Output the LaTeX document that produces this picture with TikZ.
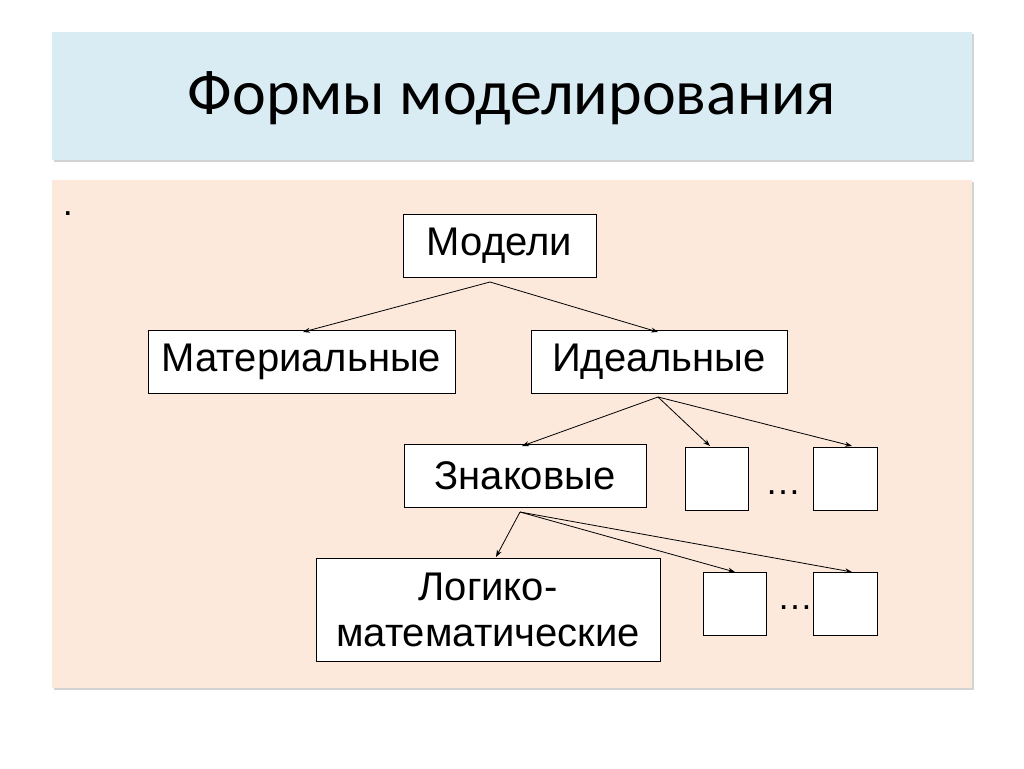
\documentclass[tikz,border=0pt]{standalone}
\usepackage{fontspec}
\setmainfont{Liberation Sans}
\newfontfamily\titlefont{Carlito}
\usetikzlibrary{arrows.meta,shadows}
\definecolor{TitleClr}{RGB}{218,236,243}
\definecolor{BodyClr}{RGB}{252,233,220}

\tikzset{
  band/.style={draw=none,drop shadow={shadow xshift=2pt,shadow yshift=-2pt,opacity=.35}},
  mbox/.style={draw,fill=white,line width=0.8pt,inner sep=0pt,font=\fontsize{40}{46}\selectfont},
  ebox/.style={draw,fill=white,line width=0.8pt},
  link/.style={-{Stealth[length=7pt,width=5pt]},line width=0.8pt}
}

\begin{document}
\begin{tikzpicture}[x=1pt,y=-1pt]
\useasboundingbox (0,0) rectangle (1024,768);

\fill[TitleClr,band] (52,32) rectangle (972,160);
\fill[BodyClr,band] (52,180) rectangle (972,688);
\node[font=\titlefont\fontsize{64}{70}\selectfont] (title) at (512,98) {Формы моделирования};
\node[font=\fontsize{36}{40}\selectfont] (dot) at (68,214) {.};

\node[mbox,minimum width=193pt,minimum height=63pt] (mod) at (499.5,246) {Модели};
\node[mbox,minimum width=307pt,minimum height=63pt] (mat) at (301.5,362) {Материальные};
\node[mbox,minimum width=256pt,minimum height=63pt] (ide) at (659,362) {Идеальные};
\node[mbox,minimum width=242pt,minimum height=63pt] (zna) at (525,476) {Знаковые};
\node[mbox,minimum width=344pt,minimum height=103pt,align=center] (log) at (488,609.5) {Логико-\\математические};

\node[ebox,minimum width=63pt,minimum height=63pt] (i1) at (716.5,478.5) {};
\node[ebox,minimum width=64pt,minimum height=63pt] (i2) at (845,478.5) {};
\node[ebox,minimum width=63pt,minimum height=63pt] (z1) at (734.5,603.5) {};
\node[ebox,minimum width=64pt,minimum height=63pt] (z2) at (845,603.5) {};
\node[font=\fontsize{36}{40}\selectfont] (d1) at (783,493) {\dots};
\node[font=\fontsize{36}{40}\selectfont] (d2) at (795,608) {\dots};

\coordinate (modb) at (490,282);
\coordinate (ideb) at (658,397);
\coordinate (znab) at (520,512);

\draw[link] (modb) -- (303,332);
\draw[link] (modb) -- (658,332);
\draw[link] (ideb) -- (522,446);
\draw[link] (ideb) -- (710,446);
\draw[link] (ideb) -- (852,446);
\draw[link] (znab) -- (496,557);
\draw[link] (znab) -- (735,572);
\draw[link] (znab) -- (852,572);
\end{tikzpicture}
\end{document}
